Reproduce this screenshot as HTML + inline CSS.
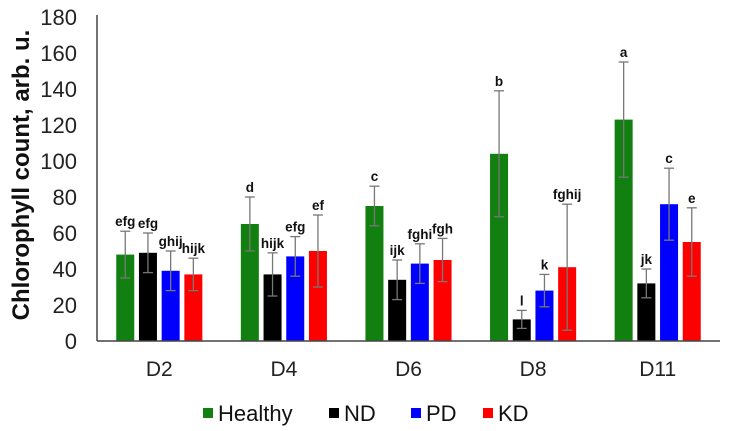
<!DOCTYPE html>
<html><head><meta charset="utf-8"><style>
body{margin:0;background:#fff;}
svg{display:block;font-family:"Liberation Sans",sans-serif;}
</style></head><body>
<svg id="chart" width="739" height="431" viewBox="0 0 739 431"></svg>
<script>
const categories = ["D2","D4","D6","D8","D11"];
const seriesNames = ["Healthy","ND","PD","KD"];
const healthy = [48,65,75,104,123];
const nd = [49,37,34,12,32];
const pd = [39,47,43,28,76];
const kd = [37,50,45,41,55];
const healthyErr = [13,15,11,35,32];
const ndErr = [11,12,11,5,8];
const pdErr = [11,11,11,9,20];
const kdErr = [9,20,12,35,19];
const healthyLetters = ["efg","d","c","b","a"];
const ndLetters = ["efg","hijk","ijk","l","jk"];
const pdLetters = ["ghij","efg","fghi","k","c"];
const kdLetters = ["hijk","ef","fgh","fghij","e"];
const yTicks = [0,20,40,60,80,100,120,140,160,180];

const colors = ["#118011","#000000","#0000ff","#ff0000"];
const series = [healthy, nd, pd, kd];
const errs = [healthyErr, ndErr, pdErr, kdErr];
const letters = [healthyLetters, ndLetters, pdLetters, kdLetters];
const NS = "http://www.w3.org/2000/svg";
const svg = document.getElementById("chart");
const x0 = 97, x1 = 720, yBase = 341, yTop = 17, yMax = 180;
const groupW = (x1 - x0) / categories.length;
const barW = 18, step = 22.7;
const y = v => yBase - v / yMax * (yBase - yTop);
const gx = i => x0 + groupW * (i + 0.5);
function mk(tag, attrs, parent) {
  const e = document.createElementNS(NS, tag);
  for (const k in attrs) e.setAttribute(k, attrs[k]);
  (parent || svg).appendChild(e);
  return e;
}
const title = mk("text", {x: 0, y: 0, transform: "translate(29,175) rotate(-90)", "text-anchor": "middle", "font-size": "24", "font-weight": "bold", fill: "#111"});
title.textContent = "Chlorophyll count, arb. u.";


yTicks.forEach(t => {
  const tx = mk("text", {x: 77, y: y(t) + 8, "text-anchor": "end", "font-size": "22", fill: "#222"});
  tx.textContent = t;
  
  
});
categories.forEach((c, i) => {
  const cx = gx(i);
  series.forEach((s, j) => {
    const bx = cx - 1.5 * step + j * step - barW / 2;
    const r = mk("rect", {x: bx, y: y(s[i]), width: barW, height: yBase - y(s[i]), fill: colors[j]});
    
    
    const mx = bx + barW / 2;
    const hi = y(s[i] + errs[j][i]), lo = y(Math.max(0, s[i] - errs[j][i]));
    const g = mk("g", {stroke: "#777", "stroke-width": "1.3"});
    
    
    mk("line", {x1: mx, x2: mx, y1: hi, y2: lo}, g);
    mk("line", {x1: mx - 5, x2: mx + 5, y1: hi, y2: hi}, g);
    mk("line", {x1: mx - 5, x2: mx + 5, y1: lo, y2: lo}, g);
    const lt = mk("text", {x: mx, y: hi - 5, "text-anchor": "middle", "font-size": "13.5", "font-weight": "bold", fill: "#111"});
    lt.textContent = letters[j][i];
    
    
  });
  const cl = mk("text", {x: cx, y: 376, "text-anchor": "middle", "font-size": "21", fill: "#222"});
  cl.textContent = c;
  
  
});
const ax = mk("line", {x1: x0, x2: x0, y1: 15, y2: yBase, stroke: "#444", "stroke-width": "1.5"});


const axx = mk("line", {x1: x0, x2: x1, y1: yBase, y2: yBase, stroke: "#444", "stroke-width": "1.5"});


const legX = [203, 329, 411, 483];
seriesNames.forEach((n, j) => {
  const g = mk("g", {});
  
  
  mk("rect", {x: legX[j], y: 408, width: 10, height: 10, fill: colors[j]}, g);
  const t = mk("text", {x: legX[j] + 15, y: 421, "font-size": "22", fill: "#111"}, g);
  t.textContent = n;
});
</script>
</body></html>
